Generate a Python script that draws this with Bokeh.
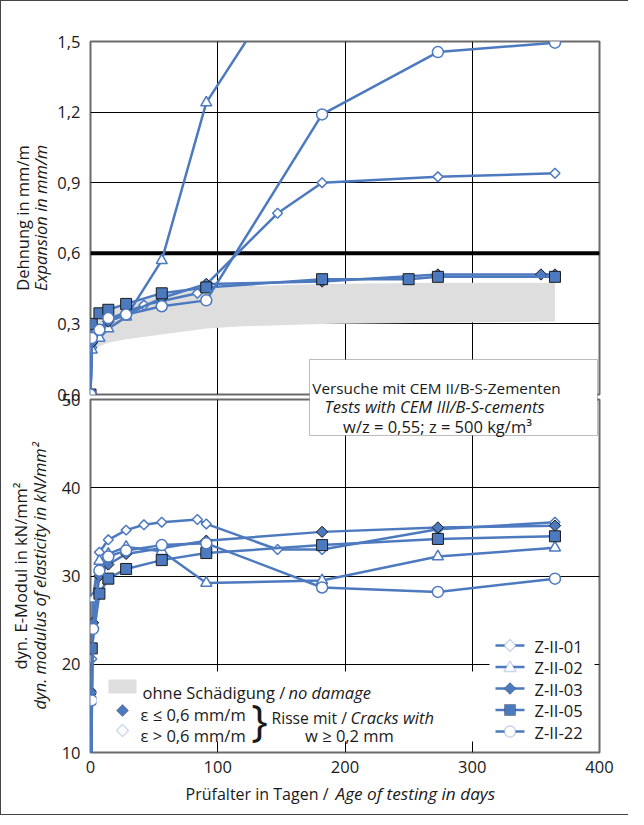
import numpy as np
from bokeh.plotting import figure
from bokeh.models import (Range1d, FixedTicker, CustomJSTickFormatter, Span, Label, LinearAxis,
                          BoxAnnotation, PolyAnnotation)
from bokeh.layouts import column
from bokeh.embed import file_html
from bokeh.resources import INLINE

# ---------------- data ----------------
x_ticks = [0, 100, 200, 300, 400]
exp_ticks = [0.0, 0.3, 0.6, 0.9, 1.2, 1.5]
emod_ticks = [10, 20, 30, 40, 50]
limit_exp = 0.6

# Expansion (mm/m)
d01_exp = [0, 1, 7, 14, 28, 42, 84, 147, 182, 273, 365]
v01_exp = [0, 0.20, 0.27, 0.32, 0.35, 0.38, 0.43, 0.77, 0.90, 0.925, 0.94]
d02_exp = [0, 1, 7, 14, 28, 56, 91, 182]
v02_exp = [0, 0.19, 0.24, 0.28, 0.33, 0.57, 1.24, 2.0]
d03_exp = [0, 1, 14, 28, 56, 91, 182, 273, 354, 365]
v03_exp = [0, 0.22, 0.31, 0.34, 0.41, 0.47, 0.48, 0.51, 0.51, 0.51]
d05_exp = [0, 1, 7, 14, 28, 56, 91, 182, 250, 273, 365]
v05_exp = [0, 0.30, 0.345, 0.36, 0.385, 0.43, 0.455, 0.49, 0.49, 0.50, 0.50]
d22_exp = [0, 1, 7, 14, 28, 56, 91, 182, 273, 365]
v22_exp = [0, 0.24, 0.275, 0.325, 0.34, 0.375, 0.40, 1.19, 1.455, 1.495]

# no-damage band (expansion)
band_days = [1, 3, 7, 14, 28, 56, 91, 120, 182, 273, 365]
band_hi = [0.26, 0.29, 0.32, 0.35, 0.38, 0.42, 0.45, 0.46, 0.47, 0.475, 0.475]
band_lo = [0.17, 0.19, 0.205, 0.22, 0.235, 0.255, 0.28, 0.29, 0.30, 0.305, 0.31]

# dyn. modulus of elasticity (kN/mm2)
d01_em = [0, 1, 2, 7, 14, 28, 42, 56, 84, 91, 147, 182, 273, 365]
v01_em = [0, 20.6, 27.5, 32.7, 34.1, 35.2, 35.8, 36.1, 36.4, 35.9, 33.0, 33.0, 35.3, 36.1]
d02_em = [0, 2, 7, 14, 28, 56, 91, 182, 273, 365]
v02_em = [0, 27.4, 31.7, 32.5, 33.3, 32.8, 29.2, 29.5, 32.2, 33.2]
d03_em = [0, 1, 2, 7, 14, 28, 91, 182, 273, 365]
v03_em = [0, 16.8, 24.7, 30.0, 31.3, 32.5, 34.0, 35.0, 35.5, 35.7]
d05_em = [0, 1, 7, 14, 28, 56, 91, 182, 273, 365]
v05_em = [0, 21.8, 28.0, 29.7, 30.8, 31.8, 32.6, 33.5, 34.2, 34.5]
d22_em = [0, 1, 2, 7, 14, 28, 56, 91, 182, 273, 365]
v22_em = [0, 15.9, 24.0, 30.6, 32.2, 32.9, 33.5, 33.7, 28.7, 28.2, 29.7]

series_names = ["Z-II-01", "Z-II-02", "Z-II-03", "Z-II-05", "Z-II-22"]

# ---------------- style ----------------
FONT = "Open Sans"
FS = "16.5px"
BLUE = "#4D79BF"
DARK = "#1b1b1b"
TXT = "#1a1a1a"
W = 627
LEFT, RIGHT = 89, 29
FRAME_X, BOTTOM_Y = 98, 822      # page x of the (aligned) frames, page y of layout bottom
H_TOP, H_BOT, OVERLAP = 405, 462, 54
H_ALL = H_TOP + H_BOT - OVERLAP

styles = {
    "Z-II-01": dict(marker="square", angle=np.pi / 4, size=7, fill_color="white", line_color=BLUE, line_width=1.5, key="diamond"),
    "Z-II-02": dict(marker="triangle", angle=0, size=11, fill_color="white", line_color=BLUE, line_width=1.5, key="triangle"),
    "Z-II-03": dict(marker="square", angle=np.pi / 4, size=8, fill_color=BLUE, line_color=DARK, line_width=1, key="diamond"),
    "Z-II-05": dict(marker="square", angle=0, size=11, fill_color=BLUE, line_color=DARK, line_width=1, key="square"),
    "Z-II-22": dict(marker="circle", angle=0, size=11, fill_color="white", line_color=BLUE, line_width=1.5, key="circle"),
}


def make_fig(height, top, bottom, y_range, y_ticks, fmt_code, title_norm, title_ital,
             standoff, outer_standoff):
    p = figure(width=W, height=height, x_range=Range1d(0, 400), y_range=y_range,
               output_backend="svg", toolbar_location=None,
               min_border_left=LEFT, min_border_right=RIGHT,
               min_border_top=top, min_border_bottom=bottom)
    outer = LinearAxis(ticker=FixedTicker(ticks=[]), axis_label=title_norm)
    p.add_layout(outer, "left")
    p.xaxis.ticker = FixedTicker(ticks=x_ticks)
    p.yaxis[0].ticker = FixedTicker(ticks=y_ticks)
    p.xgrid.ticker = FixedTicker(ticks=x_ticks)
    p.ygrid.ticker = FixedTicker(ticks=y_ticks)
    p.yaxis[0].formatter = CustomJSTickFormatter(code=fmt_code)
    p.yaxis[0].axis_label = title_ital
    p.yaxis[0].axis_label_text_font_style = "italic"
    p.yaxis[0].axis_label_standoff = standoff
    outer.axis_label_standoff = outer_standoff
    outer.axis_label_text_font_style = "normal"
    for ax in p.xaxis + p.yaxis:
        ax.axis_line_color = None
        ax.major_tick_line_color = None
        ax.minor_tick_line_color = None
        ax.major_tick_out = 0
        ax.major_tick_in = 0
        ax.minor_tick_out = 0
        ax.minor_tick_in = 0
        ax.major_label_text_font = FONT
        ax.major_label_text_font_size = FS
        ax.major_label_text_color = TXT
        ax.axis_label_text_font = FONT
        ax.axis_label_text_font_size = FS
        ax.axis_label_text_color = TXT
    p.yaxis[0].major_label_standoff = 10
    p.xaxis.major_label_standoff = 8
    p.grid.grid_line_color = "black"
    p.grid.grid_line_width = 1
    p.outline_line_color = "#6b6b6b"
    p.outline_line_width = 2
    p.background_fill_color = "white"
    return p


def draw_series(p, pairs):
    for name, (d, v) in zip(series_names, pairs):
        st = styles[name]
        p.line(d, v, line_color=BLUE, line_width=2.5)
        p.scatter(d, v, marker=st["marker"], angle=st["angle"], size=st["size"],
                  fill_color=st["fill_color"], line_color=st["line_color"],
                  line_width=st["line_width"])


# ---------------- top panel: expansion ----------------
top = make_fig(H_TOP, 40, 12, Range1d(0, 1.5), exp_ticks,
               "return tick.toFixed(1).replace('.', ',');",
               "Dehnung in mm/m", "Expansion in mm/m", 2, -7)
top.xaxis.visible = False
top.border_fill_color = "white"
top.add_layout(Span(location=limit_exp, dimension="width", line_color="black",
                    line_width=4, level="underlay"))
top.varea(x=band_days, y1=band_lo, y2=band_hi, fill_color="#DEDEDE")
draw_series(top, [(d01_exp, v01_exp), (d02_exp, v02_exp), (d03_exp, v03_exp),
                  (d05_exp, v05_exp), (d22_exp, v22_exp)])

# ---------------- bottom panel: E-modulus ----------------
bot = make_fig(H_BOT, 47, 62, Range1d(10, 50), emod_ticks, "return tick.toFixed(0);",
               "dyn. E-Modul in kN/mm²", "dyn. modulus of elasticity in kN/mm²", 8, -7)
bot.border_fill_color = None
bot.margin = (-OVERLAP, 0, 0, 0)
draw_series(bot, [(d01_em, v01_em), (d02_em, v02_em), (d03_em, v03_em),
                  (d05_em, v05_em), (d22_em, v22_em)])

# ---------------- overlay canvas for x title, info box, key and legend ----------------
ov = figure(width=W, height=H_ALL, x_range=Range1d(0, W), y_range=Range1d(0, H_ALL),
            x_axis_type=None, y_axis_type=None, output_backend="svg", toolbar_location=None,
            min_border=0, min_border_left=LEFT, min_border_right=RIGHT, min_border_top=0,
            min_border_bottom=0)
ov.outline_line_color = None
ov.background_fill_color = None
ov.border_fill_color = None
ov.margin = (-H_ALL, 0, 0, 0)


def sx(px):
    return px - FRAME_X


def sy(py):
    return BOTTOM_Y - py


def lab(text, px, py, align="left", baseline="alphabetic", style="normal", size=FS,
        angle=0.0, font=FONT, color=TXT):
    ov.add_layout(Label(x=sx(px), y=sy(py), x_units="screen", y_units="screen", text=text,
                        text_align=align, text_baseline=baseline, text_font_style=style,
                        text_font_size=size, angle=angle, text_font=font, text_color=color))


def box(l, r, t, b, fill, line=None, lw=1.0):
    ov.add_layout(BoxAnnotation(left=sx(l), right=sx(r), top=sy(t), bottom=sy(b),
                                left_units="screen", right_units="screen",
                                top_units="screen", bottom_units="screen",
                                fill_color=fill, fill_alpha=1.0, line_color=line,
                                line_width=lw))


def poly(pxs, pys, fill, line, lw):
    ov.add_layout(PolyAnnotation(xs=[sx(v) for v in pxs], ys=[sy(v) for v in pys],
                                 xs_units="screen", ys_units="screen", fill_color=fill,
                                 fill_alpha=1.0, line_color=line, line_width=lw))


def key_marker(kind, cx, cy, fill, line, lw):
    if kind == "diamond":
        h = 6
        poly([cx - h, cx, cx + h, cx], [cy, cy - h, cy, cy + h], fill, line, lw)
    elif kind == "square":
        h = 5.5
        poly([cx - h, cx + h, cx + h, cx - h], [cy - h, cy - h, cy + h, cy + h], fill, line, lw)
    elif kind == "triangle":
        poly([cx - 6, cx, cx + 6], [cy + 4.5, cy - 6, cy + 4.5], fill, line, lw)
    elif kind == "circle":
        t = np.linspace(0, 2 * np.pi, 28, endpoint=False)
        poly(list(cx + 5.5 * np.cos(t)), list(cy + 5.5 * np.sin(t)), fill, line, lw)


# x axis title (mixed upright / italic)
lab("Prüfalter in Tagen /", 336, 801, align="right", size="16px")
lab("Age of testing in days", 343, 801, style="italic", size="17.2px")

# info box spanning both panels
box(317, 605, 367, 443, "white", line="#222222")
lab("Versuche mit CEM II/B-S-Zementen", 444, 395, align="center", size="15.3px")
lab("Tests with CEM III/B-S-cements", 442, 414, align="center", style="italic")
lab("w/z = 0,55; z = 500 kg/m³", 445, 434, align="center")

# key block (bottom left of lower panel)
box(104, 495, 679, 749, "white")
box(116, 144, 687, 701, "#DEDEDE")
lab("ohne Schädigung /", 150, 700)
lab("no damage", 296, 700, style="italic")
key_marker("diamond", 130, 718, BLUE, DARK, 1)
key_marker("diamond", 130, 738, "white", BLUE, 1.3)
lab("ε ≤ 0,6 mm/m", 148, 722)
lab("ε > 0,6 mm/m", 148, 743)
lab("}", 267, 726, align="center", baseline="middle", size="44px")
lab("Risse mit /", 279, 725, size="15.7px")
lab("Cracks with", 358, 725, style="italic")
lab("w ≥ 0,2 mm", 357, 743, align="center")

# series legend (bottom right of lower panel)
box(497, 602, 641, 753, "white")
for i, n in enumerate(series_names):
    st = styles[n]
    cy = 653 + 21.5 * i
    box(503, 532, cy - 1.25, cy + 1.25, BLUE)
    key_marker(st["key"], 517.5, cy, st["fill_color"], st["line_color"], st["line_width"])
    lab(n, 542, cy + 0.5, baseline="middle")

layout = column(top, bot, ov, styles={"border-left": "1px solid #444",
                                      "border-top": "1px solid #444",
                                      "border-bottom": "1px solid #444"})

open("out.html", "w").write(file_html(layout, INLINE))
